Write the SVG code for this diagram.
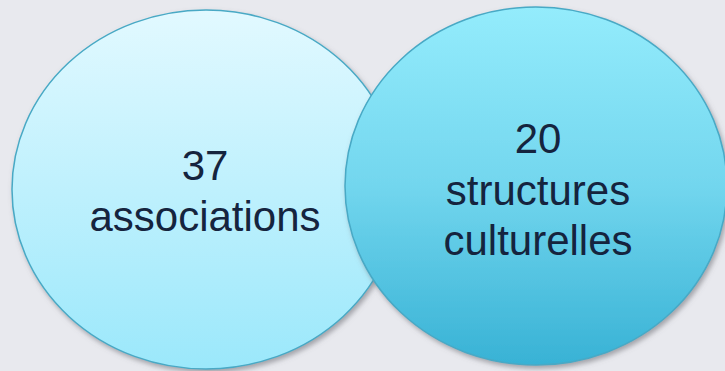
<svg xmlns="http://www.w3.org/2000/svg" width="725" height="371" viewBox="0 0 725 371">
  <defs>
    <linearGradient id="gLeft" x1="0" y1="0" x2="0" y2="1">
      <stop offset="0" stop-color="#e2f9ff"/>
      <stop offset="1" stop-color="#9be8fb"/>
    </linearGradient>
    <linearGradient id="gRight" x1="0" y1="0" x2="0" y2="1">
      <stop offset="0" stop-color="#94ecfc"/>
      <stop offset="0.5" stop-color="#72d6ee"/>
      <stop offset="1" stop-color="#38b2d5"/>
    </linearGradient>
    <filter id="shadow" x="-10%" y="-10%" width="125%" height="125%">
      <feDropShadow dx="2" dy="3" stdDeviation="2.5" flood-color="#6a6a70" flood-opacity="0.55"/>
    </filter>
    <style>
      .bubble { stroke: #48a9c5; stroke-width: 1.5; filter: url(#shadow); }
      .label { font-family: "Liberation Sans", Arial, sans-serif; font-size: 42px; fill: #15243e; text-anchor: middle; }
    </style>
  </defs>
  <rect width="725" height="371" fill="#e8e9ee"/>
  <g id="node-associations">
    <ellipse class="bubble" cx="206" cy="189.5" rx="194" ry="179.5" fill="url(#gLeft)"/>
    <text class="label" x="205" y="180">37</text>
    <text class="label" x="205" y="231">associations</text>
  </g>
  <g id="node-structures">
    <ellipse class="bubble" cx="536" cy="186" rx="191" ry="179" fill="url(#gRight)"/>
    <text class="label" x="538" y="153">20</text>
    <text class="label" x="538" y="205">structures</text>
    <text class="label" x="538" y="255">culturelles</text>
  </g>
</svg>
